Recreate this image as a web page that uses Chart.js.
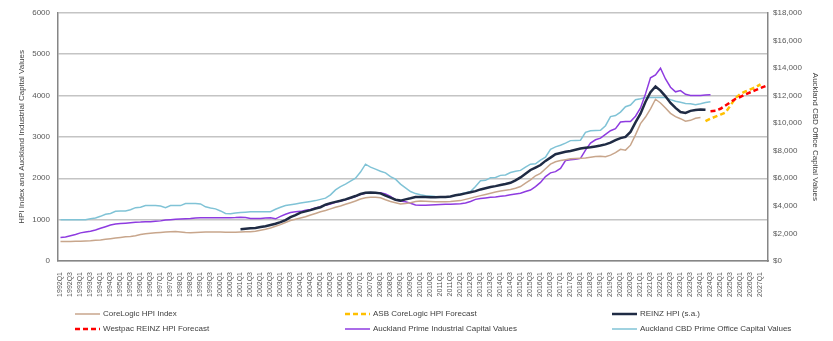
<!DOCTYPE html>
<html>
<head>
<meta charset="utf-8">
<script src="https://cdn.jsdelivr.net/npm/chart.js@4.4.1/dist/chart.umd.min.js"></script>
<style>
  html, body { margin: 0; padding: 0; background: #fff; }
  #wrap { width: 833px; height: 341px; }
</style>
</head>
<body>
<div id="wrap"><canvas id="myChart" width="833" height="341"></canvas></div>
<script>
// quarters 1992Q1 .. 2027Q2
const quarters = [];
for (let y = 1992; y <= 2027; y++) {
  for (let q = 1; q <= 4; q++) {
    if (y === 2027 && q > 2) break;
    quarters.push(y + 'Q' + q);
  }
}

const leftTicks = [0, 1000, 2000, 3000, 4000, 5000, 6000];
const rightTicks = [0, 2000, 4000, 6000, 8000, 10000, 12000, 14000, 16000, 18000];

// CoreLogic HPI Index, 1992Q1 - 2024Q1
const corelogic = [
  470, 470, 470, 475, 480, 485, 490, 500, 510, 525, 540, 555,
  570, 585, 595, 610, 640, 660, 670, 680, 690, 700, 710, 712,
  700, 690, 685, 690, 697, 700, 700, 700, 700, 697, 695, 697,
  700, 705, 710, 720, 745, 770, 800, 840, 880, 930, 980, 1010,
  1040, 1070, 1110, 1150, 1190, 1220, 1260, 1300, 1330, 1370, 1410, 1450,
  1500, 1530, 1540, 1540, 1530, 1480, 1440, 1410, 1380, 1390, 1410, 1440,
  1450, 1445, 1440, 1435, 1433, 1435, 1440, 1450, 1460, 1490, 1520, 1550,
  1580, 1610, 1640, 1670, 1690, 1710, 1730, 1760, 1800, 1880, 1960, 2060,
  2120, 2230, 2340, 2400, 2430, 2450, 2470, 2480, 2485, 2490, 2510, 2525,
  2530, 2520, 2560, 2620, 2700, 2680, 2800, 3050, 3320, 3480, 3680, 3910,
  3820, 3700, 3570, 3490, 3440, 3380, 3400, 3450, 3470
];

// ASB CoreLogic HPI Forecast, 2024Q2 - 2027Q1
const asbForecast = [3380, 3440, 3490, 3540, 3590, 3760, 3940, 4040, 4100, 4150, 4200, 4270];

// REINZ HPI (s.a.), 2001Q1 - 2024Q2
const reinz = [
  770, 780, 790, 800, 820, 840, 870, 900, 940, 990, 1060, 1110,
  1170, 1200, 1230, 1270, 1300, 1360, 1400, 1430, 1455, 1490, 1530, 1570,
  1620, 1650, 1655, 1650, 1635, 1580, 1530, 1480, 1460, 1490, 1515, 1545,
  1550, 1545, 1540, 1540, 1545, 1550, 1560, 1590, 1610, 1635, 1660, 1690,
  1730, 1760, 1790, 1810, 1835, 1860, 1890, 1950, 2020, 2110, 2200, 2260,
  2320, 2420, 2500, 2580, 2610, 2640, 2660, 2690, 2720, 2740, 2750, 2770,
  2790, 2820, 2860, 2920, 2970, 3000, 3120, 3350, 3560, 3850, 4080, 4220,
  4120, 3980, 3820, 3700, 3600, 3580, 3630, 3650, 3660, 3655
];

// Westpac REINZ HPI Forecast, 2024Q3 - 2027Q2
const westpacForecast = [3620, 3630, 3680, 3760, 3840, 3920, 3970, 4030, 4080, 4130, 4180, 4230];

// Auckland Prime Industrial Capital Values, 1992Q1 - 2024Q3
const industrial = [
  570, 580, 610, 640, 680, 700, 720, 750, 790, 830, 870, 895,
  905, 915, 925, 935, 940, 950, 950, 960, 970, 990, 1000, 1010,
  1015, 1020, 1025, 1040, 1045, 1045, 1045, 1045, 1045, 1045, 1045, 1050,
  1060, 1050, 1030, 1030, 1030, 1040, 1045, 1020, 1080, 1130, 1170, 1190,
  1200, 1225, 1245, 1280, 1310, 1350, 1380, 1420, 1450, 1480, 1520, 1560,
  1610, 1640, 1645, 1650, 1650, 1620, 1560, 1480, 1450, 1430, 1395, 1355,
  1350, 1350, 1355, 1360, 1365, 1370, 1370, 1380, 1385, 1400, 1440, 1490,
  1510, 1525, 1540, 1550, 1565, 1580, 1600, 1620, 1640, 1680, 1715, 1800,
  1900, 2040, 2130, 2160, 2240, 2430, 2445, 2460, 2480, 2680, 2850, 2930,
  2970, 3060, 3150, 3200, 3360, 3370, 3370, 3500, 3700, 4040, 4430, 4500,
  4660, 4400, 4200, 4090, 4120, 4030, 4000, 4000, 4000, 4010, 4020
];

// Auckland CBD Prime Office Capital Values ($), 1992Q1 - 2024Q3
const cbdOffice = [
  3000, 3000, 3000, 3000, 3000, 3000, 3060, 3120, 3240, 3390, 3450, 3600,
  3630, 3630, 3720, 3870, 3900, 4020, 4020, 4020, 3990, 3870, 4020, 4020,
  4020, 4170, 4170, 4170, 4140, 3930, 3840, 3780, 3630, 3450, 3420, 3480,
  3510, 3540, 3570, 3570, 3570, 3570, 3570, 3750, 3900, 4020, 4080, 4140,
  4200, 4260, 4320, 4380, 4470, 4560, 4800, 5160, 5400, 5580, 5790, 6000,
  6450, 7020, 6810, 6660, 6510, 6390, 6120, 5940, 5580, 5310, 5040, 4890,
  4800, 4740, 4710, 4680, 4665, 4665, 4680, 4770, 4860, 4950, 5040, 5400,
  5820, 5850, 6030, 6060, 6210, 6240, 6420, 6510, 6570, 6810, 7020, 7050,
  7320, 7530, 8100, 8280, 8400, 8550, 8730, 8745, 8760, 9330, 9450, 9465,
  9480, 9810, 10470, 10545, 10800, 11190, 11310, 11700, 11760, 11850, 11865, 11865,
  11865, 11850, 11700, 11580, 11520, 11430, 11400, 11340, 11400, 11490, 11550
];

// place a series on the quarter axis starting at a given quarter
function place(startLabel, values) {
  const out = new Array(quarters.length).fill(null);
  const start = quarters.indexOf(startLabel);
  values.forEach((v, i) => { out[start + i] = v; });
  return out;
}

const FONT = "'Liberation Sans', Arial, sans-serif";

const legendLayout = [
  { x: 75, y: 314 }, { x: 345, y: 314 }, { x: 612, y: 314 },
  { x: 75, y: 329 }, { x: 345, y: 329 }, { x: 612, y: 329 },
];

const gridLegend = {
  id: 'gridLegend',
  afterDraw(chart) {
    const ctx = chart.ctx;
    ctx.save();
    chart.data.datasets.forEach((ds, i) => {
      const p = legendLayout[i];
      ctx.beginPath();
      ctx.strokeStyle = ds.borderColor;
      ctx.lineWidth = ds.borderWidth;
      ctx.setLineDash(ds.borderDash || []);
      ctx.moveTo(p.x, p.y);
      ctx.lineTo(p.x + 25, p.y);
      ctx.stroke();
      ctx.setLineDash([]);
      ctx.fillStyle = '#404040';
      ctx.font = '8px ' + FONT;
      ctx.textBaseline = 'middle';
      ctx.fillText(ds.label, p.x + 28, p.y);
    });
    ctx.restore();
  },
};

const ctx = document.getElementById('myChart').getContext('2d');
const chart = new Chart(ctx, {
  type: 'line',
  data: {
    labels: quarters,
    datasets: [
      {
        label: 'CoreLogic HPI Index',
        data: place('1992Q1', corelogic),
        borderColor: '#C8A68C',
        borderWidth: 1.5,
        yAxisID: 'y',
        order: 3,
      },
      {
        label: 'ASB CoreLogic HPI Forecast',
        data: place('2024Q2', asbForecast),
        borderColor: '#FFC000',
        borderWidth: 2.5,
        borderDash: [5, 3],
        yAxisID: 'y',
        order: 2,
      },
      {
        label: 'REINZ HPI (s.a.)',
        data: place('2001Q1', reinz),
        borderColor: '#1F2B44',
        borderWidth: 2.5,
        yAxisID: 'y',
        order: 0,
      },
      {
        label: 'Westpac REINZ HPI Forecast',
        data: place('2024Q3', westpacForecast),
        borderColor: '#FF0000',
        borderWidth: 2.5,
        borderDash: [5, 3],
        yAxisID: 'y',
        order: 1,
      },
      {
        label: 'Auckland Prime Industrial Capital Values',
        data: place('1992Q1', industrial),
        borderColor: '#8E3BE0',
        borderWidth: 1.5,
        yAxisID: 'y',
        order: 4,
      },
      {
        label: 'Auckland CBD Prime Office Capital Values',
        data: place('1992Q1', cbdOffice),
        borderColor: '#80C3D6',
        borderWidth: 1.5,
        yAxisID: 'y2',
        order: 5,
      },
    ],
  },
  options: {
    responsive: false,
    animation: false,
    elements: {
      point: { radius: 0 },
      line: { tension: 0, fill: false },
    },
    layout: { padding: { top: 12, bottom: 36, left: 0, right: 0 } },
    plugins: {
      legend: { display: false },
      tooltip: { enabled: false },
    },
    scales: {
      x: {
        offset: true,
        grid: { display: false },
        border: { color: '#868686', width: 1.5 },
        ticks: {
          autoSkip: false,
          minRotation: 90,
          maxRotation: 90,
          padding: 3,
          color: '#595959',
          font: { size: 7, family: FONT },
          callback: (v, i) => (i % 2 === 0 ? quarters[i] : ''),
        },
        afterFit: (s) => { s.height = 44; },
      },
      y: {
        position: 'left',
        min: 0,
        max: 6000,
        afterBuildTicks: (s) => { s.ticks = leftTicks.map((v) => ({ value: v })); },
        grid: { color: '#C4C4C4', lineWidth: 1.5, drawTicks: false },
        border: { color: '#868686', width: 1.5 },
        ticks: {
          padding: 8,
          color: '#595959',
          font: { size: 8, family: FONT },
          callback: (v) => String(v),
        },
        title: {
          display: true,
          text: 'HPI Index and Auckland Industrial Capital Values',
          color: '#404040',
          font: { size: 8, family: FONT },
          padding: { top: 17, bottom: 0 },
        },
        afterFit: (s) => { s.width = 58; },
      },
      y2: {
        position: 'right',
        min: 0,
        max: 18000,
        afterBuildTicks: (s) => { s.ticks = rightTicks.map((v) => ({ value: v })); },
        grid: { drawOnChartArea: false, drawTicks: false },
        border: { color: '#868686', width: 1.5 },
        ticks: {
          padding: 5,
          color: '#595959',
          font: { size: 8, family: FONT },
          callback: (v) => '$' + v.toLocaleString('en-US'),
        },
        title: {
          display: true,
          text: 'Auckland CBD Office Capital Values',
          color: '#404040',
          font: { size: 8, family: FONT },
          padding: { top: 13, bottom: 0 },
        },
        afterFit: (s) => { s.width = 65; },
      },
    },
  },
  plugins: [gridLegend],
});
</script>
</body>
</html>
